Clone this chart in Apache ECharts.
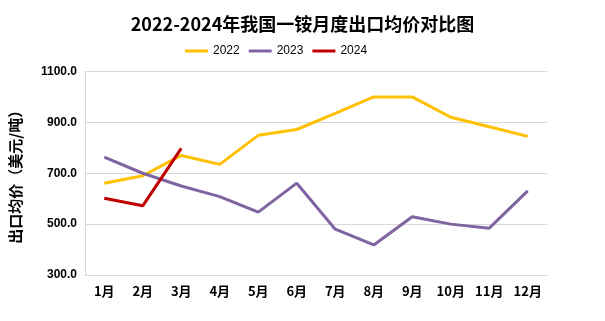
<!DOCTYPE html>
<html><head><meta charset="utf-8">
<script src="https://cdn.jsdelivr.net/npm/echarts@6/dist/echarts.min.js"></script>
<style>html,body{margin:0;padding:0;background:#fff}#c{width:605px;height:321px}</style>
</head><body><div id="c"></div>
<script>
const categories = ['1月','2月','3月','4月','5月','6月','7月','8月','9月','10月','11月','12月'];
const s2022 = [661, 690, 770, 735, 849, 872, 935, 1000, 1000, 920, 883, 845];
const s2023 = [763, 700, 650, 608, 547, 661, 480, 418, 529, 500, 484, 631];
const s2024 = [602, 572, 798];
const seriesNames = ['2022','2023','2024'];
const colors = ['#FFC000','#8064A2','#C00000'];
const chart = echarts.init(document.getElementById('c'), null, {renderer:'canvas'});
const font = '"Microsoft YaHei","Noto Sans CJK SC",sans-serif';
chart.setOption({
  animation:false,
  color: colors,
  title:{text:'2022-2024年我国一铵月度出口均价对比图', left:'center', top:10,
    textStyle:{fontSize:18, fontWeight:'bold', color:'#000', fontFamily:font}},
  legend:{top:40, left:180, itemWidth:23, itemHeight:3, itemGap:9, icon:'rect',
    textStyle:{fontSize:12, color:'#000', fontFamily:'"Liberation Sans",Arial,sans-serif'},
    data:seriesNames},
  grid:{left:85, right:58, top:71.5, bottom:46},
  xAxis:{type:'category', data:categories, boundaryGap:true,
    axisLine:{lineStyle:{color:'#d9d9d9'}}, axisTick:{show:false},
    axisLabel:{fontSize:13, fontWeight:'bold', color:'#000', fontFamily:font, margin:10}},
  yAxis:{type:'value', min:300, max:1100, interval:200,
    name:'出口均价（美元/吨）', nameLocation:'middle', nameGap:62, nameRotate:90,
    nameTextStyle:{fontSize:15, fontWeight:'bold', color:'#000', fontFamily:font},
    axisLine:{show:true, lineStyle:{color:'#d9d9d9'}}, axisTick:{show:false},
    splitLine:{lineStyle:{color:'#d9d9d9'}},
    axisLabel:{fontSize:12, fontWeight:'bold', color:'#000', fontFamily:'"Liberation Sans",Arial,sans-serif', margin:8,
      formatter:v=>v.toFixed(1)}},
  series:[
    {name:seriesNames[0], type:'line', data:s2022, symbol:'none', lineStyle:{width:3, color:colors[0]}},
    {name:seriesNames[1], type:'line', data:s2023, symbol:'none', lineStyle:{width:3, color:colors[1]}},
    {name:seriesNames[2], type:'line', data:s2024, symbol:'none', lineStyle:{width:3, color:colors[2]}}
  ]
});
</script></body></html>
